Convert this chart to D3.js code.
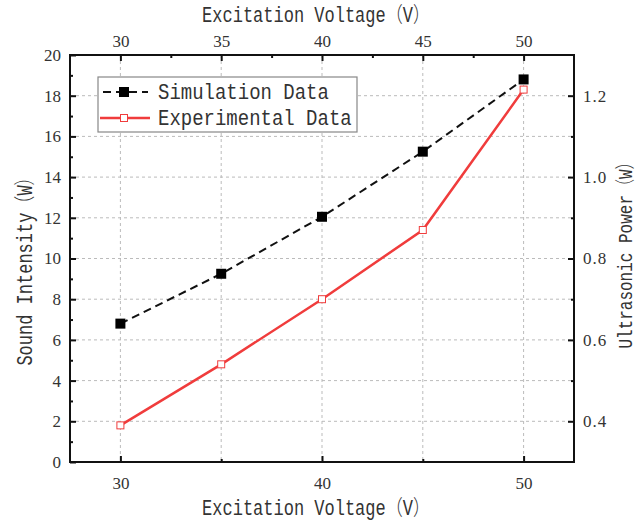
<html>
    <meta charset = "utf-8">
    <style>
    body {
      margin: 0;
      background: white;
    }
    .mono {
      font-family: "Liberation Mono", monospace;
      fill: #333;
    }
    .cjk {
      font-family: "Noto Sans CJK SC";
      font-weight: 300;
    }
    </style>
    <body>
        <script src="https://d3js.org/d3.v7.min.js"></script>
        <script>

            // data
            var voltage = [30, 35, 40, 45, 50];
            var simulation = [6.8, 9.25, 12.05, 15.25, 18.8];      // sound intensity (W), left axis
            var experimental = [0.39, 0.54, 0.70, 0.87, 1.215];    // ultrasonic power (W), right axis

            var topTicks = [30, 35, 40, 45, 50];
            var topMinor = [32.5, 37.5, 42.5, 47.5];
            var bottomTicks = [30, 40, 50];
            var bottomMinor = [35, 45];
            var leftTicks = [0, 2, 4, 6, 8, 10, 12, 14, 16, 18, 20];
            var leftMinor = [1, 3, 5, 7, 9, 11, 13, 15, 17, 19];
            var rightTicks = [0.4, 0.6, 0.8, 1.0, 1.2];
            var rightMinor = [0.5, 0.7, 0.9, 1.1];

            var seriesNames = ["Simulation Data", "Experimental Data"];

            var width = 641, height = 520;
            var plot = {left: 70, right: 574, top: 55, bottom: 462};

            var xScale = d3.scaleLinear().domain([27.5, 52.5]).range([plot.left, plot.right]);
            var yLeft = d3.scaleLinear().domain([0, 20]).range([plot.bottom, plot.top]);
            var yRight = d3.scaleLinear().domain([0.3, 1.3]).range([plot.bottom, plot.top]);

            var svg = d3.select("body").append("svg")
                .attr("width", width)
                .attr("height", height);

            // grid
            svg.append("g").selectAll("line")
              .data(topTicks)
              .enter().append("line")
              .attr("x1", function(d) { return xScale(d); })
              .attr("x2", function(d) { return xScale(d); })
              .attr("y1", plot.top).attr("y2", plot.bottom)
              .attr("stroke", "#bbb")
              .attr("stroke-dasharray", "3,3");
            svg.append("g").selectAll("line")
              .data(leftTicks.slice(1, -1))
              .enter().append("line")
              .attr("y1", function(d) { return yLeft(d); })
              .attr("y2", function(d) { return yLeft(d); })
              .attr("x1", plot.left).attr("x2", plot.right)
              .attr("stroke", "#bbb")
              .attr("stroke-dasharray", "3,3");

            // axes, ticks pointing inwards
            function addAxis(axis, tx, ty) {
                var g = svg.append("g")
                  .attr("transform", "translate(" + tx + "," + ty + ")")
                  .call(axis);
                g.select(".domain").remove();
                g.selectAll(".tick line").attr("stroke", "#111").attr("stroke-width", 2);
                g.selectAll(".tick text")
                  .attr("fill", "#333")
                  .style("font-family", "'Liberation Serif', serif")
                  .style("font-size", "17px");
                return g;
            }

            addAxis(d3.axisTop(xScale).tickValues(topTicks).tickSize(-6).tickPadding(8), 0, plot.top);
            addAxis(d3.axisTop(xScale).tickValues(topMinor).tickSize(-3).tickFormat(""), 0, plot.top);
            addAxis(d3.axisBottom(xScale).tickValues(bottomTicks).tickSize(-6).tickPadding(15), 0, plot.bottom);
            addAxis(d3.axisBottom(xScale).tickValues(bottomMinor).tickSize(-3).tickFormat(""), 0, plot.bottom);
            addAxis(d3.axisLeft(yLeft).tickValues(leftTicks).tickSize(-6).tickPadding(9), plot.left, 0);
            addAxis(d3.axisLeft(yLeft).tickValues(leftMinor).tickSize(-3).tickFormat(""), plot.left, 0);
            addAxis(d3.axisRight(yRight).tickValues(rightTicks).tickSize(-6).tickPadding(9).tickFormat(d3.format(".1f")), plot.right, 0)
              .selectAll("text").attr("letter-spacing", "1px");
            addAxis(d3.axisRight(yRight).tickValues(rightMinor).tickSize(-3).tickFormat(""), plot.right, 0);

            // frame
            svg.append("rect")
              .attr("x", plot.left).attr("y", plot.top)
              .attr("width", plot.right - plot.left).attr("height", plot.bottom - plot.top)
              .attr("fill", "none")
              .attr("stroke", "#111")
              .attr("stroke-width", 2);

            // axis titles (tall narrow glyphs like the original), unit in full-width brackets
            function title(name, unit, x, y, rot, size) {
                var t = svg.append("text")
                  .attr("class", "mono")
                  .attr("transform", "translate(" + x + "," + y + ") rotate(" + rot + ") scale(1,1.25)")
                  .attr("text-anchor", "middle")
                  .style("font-size", size + "px");
                t.append("tspan").text(name);
                t.append("tspan").attr("class", "cjk").text("（");
                t.append("tspan").text(unit);
                t.append("tspan").attr("class", "cjk").text("）");
            }
            title("Excitation Voltage", "V", 316, 22, 0, 17);
            title("Excitation Voltage", "V", 316, 515, 0, 17);
            title("Sound Intensity", "W", 32, 267, -90, 17);
            title("Ultrasonic Power", "W", 632, 251, -90, 16);

            // series
            var simData = voltage.map(function(v, i) { return {x: v, y: simulation[i]}; });
            var expData = voltage.map(function(v, i) { return {x: v, y: experimental[i]}; });

            var simLine = d3.line()
              .x(function(d) { return xScale(d.x); })
              .y(function(d) { return yLeft(d.y); });
            var expLine = d3.line()
              .x(function(d) { return xScale(d.x); })
              .y(function(d) { return yRight(d.y); });

            svg.append("path")
              .datum(simData)
              .attr("d", simLine)
              .attr("fill", "none")
              .attr("stroke", "#111")
              .attr("stroke-width", 2)
              .attr("stroke-dasharray", "8,5");

            svg.append("path")
              .datum(expData)
              .attr("d", expLine)
              .attr("fill", "none")
              .attr("stroke", "#f03c3c")
              .attr("stroke-width", 2.5);

            svg.selectAll(".simPt")
              .data(simData)
              .enter().append("rect")
              .attr("x", function(d) { return xScale(d.x) - 5; })
              .attr("y", function(d) { return yLeft(d.y) - 5; })
              .attr("width", 10).attr("height", 10)
              .attr("fill", "#000");

            svg.selectAll(".expPt")
              .data(expData)
              .enter().append("rect")
              .attr("x", function(d) { return xScale(d.x) - 3.5; })
              .attr("y", function(d) { return yRight(d.y) - 3.5; })
              .attr("width", 7).attr("height", 7)
              .attr("fill", "white")
              .attr("stroke", "#f03c3c")
              .attr("stroke-width", 1);

            // legend
            var legend = svg.append("g");
            legend.append("rect")
              .attr("x", 98).attr("y", 77)
              .attr("width", 259).attr("height", 55)
              .attr("fill", "white")
              .attr("stroke", "#888")
              .attr("stroke-width", 1.2);

            var rowY = [92, 118];
            legend.append("line")
              .attr("x1", 101).attr("x2", 148).attr("y1", rowY[0]).attr("y2", rowY[0])
              .attr("stroke", "#111").attr("stroke-width", 2).attr("stroke-dasharray", "8,5")
              .attr("stroke-dashoffset", -2);
            legend.append("rect")
              .attr("x", 119).attr("y", rowY[0] - 5).attr("width", 10).attr("height", 10)
              .attr("fill", "#000");
            legend.append("line")
              .attr("x1", 100).attr("x2", 150).attr("y1", rowY[1]).attr("y2", rowY[1])
              .attr("stroke", "#f03c3c").attr("stroke-width", 2.5);
            legend.append("rect")
              .attr("x", 120.5).attr("y", rowY[1] - 3.5).attr("width", 7).attr("height", 7)
              .attr("fill", "white").attr("stroke", "#f03c3c");

            legend.selectAll(".lbl")
              .data(seriesNames)
              .enter().append("text")
              .attr("class", "mono")
              .attr("transform", function(d, i) { return "translate(158," + (rowY[i] + 7) + ") scale(1,1.2)"; })
              .style("font-size", "19px")
              .text(function(d) { return d; });
        </script>
    </body>
</html>
